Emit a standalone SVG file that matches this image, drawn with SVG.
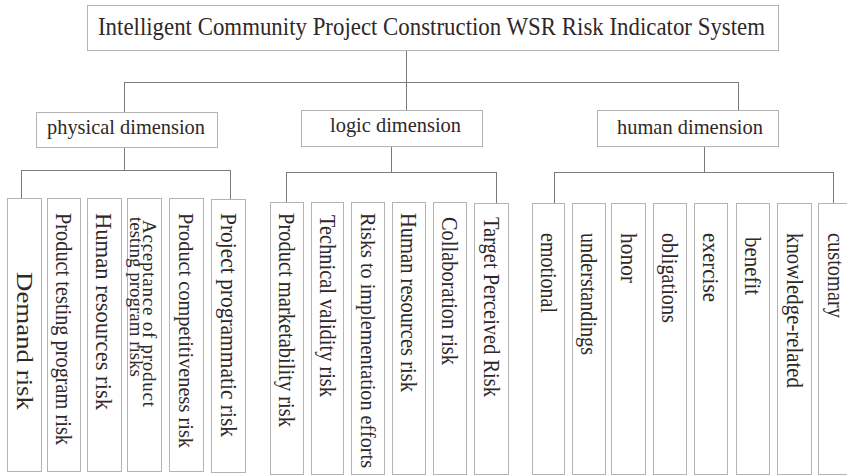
<svg xmlns="http://www.w3.org/2000/svg" width="847" height="476" viewBox="0 0 847 476">
  <style>
    .box { fill: #ffffff; stroke: #b4b4b4; stroke-width: 1; }
    .link { fill: none; stroke: #7a7a7a; stroke-width: 1; }
    text { font-family: "Liberation Serif", "Times New Roman", serif; fill: #2f2828; }
    .title { font-size: 25px; }
    .dim { font-size: 21px; }
    .leaf { font-size: 23px; }
    .long { font-size: 20.5px; }
    .small { font-size: 19px; }
  </style>
  <rect width="847" height="476" fill="#ffffff"/>

  <!-- connectors -->
  <g id="connectors">
    <path class="link" d="M406.5,50 V110 M124.5,82.5 H738.5 M124.5,82 V112 M738.5,82 V110"/>
    <path class="link" d="M124.5,147 V170.5 M21.5,170.5 H230.5 M21.5,170 V198 M230.5,170 V199"/>
    <path class="link" d="M391.5,147 V172.5 M286.5,172.5 H496.5 M286.5,172 V202 M496.5,172 V203"/>
    <path class="link" d="M704.5,147 V172.5 M554.5,172.5 H833.5 M554.5,172 V203 M833.5,172 V203"/>
  </g>

  <!-- root -->
  <g id="root">
    <rect class="box" x="87.5" y="5.5" width="691" height="45"/>
    <text class="title" x="98" y="35" textLength="667" lengthAdjust="spacingAndGlyphs">Intelligent Community Project Construction WSR Risk Indicator System</text>
  </g>

  <!-- dimensions -->
  <g id="dim-physical">
    <rect class="box" x="36.5" y="112.5" width="181" height="35"/>
    <text class="dim" x="47" y="134" textLength="158" lengthAdjust="spacingAndGlyphs">physical dimension</text>
  </g>
  <g id="dim-logic">
    <rect class="box" x="301.5" y="110.5" width="181" height="36"/>
    <text class="dim" x="330" y="131.5" textLength="131" lengthAdjust="spacingAndGlyphs">logic dimension</text>
  </g>
  <g id="dim-human">
    <rect class="box" x="597.5" y="110.5" width="181" height="36"/>
    <text class="dim" x="617" y="133.5" textLength="146" lengthAdjust="spacingAndGlyphs">human dimension</text>
  </g>

  <!-- physical indicators -->
  <g id="p1">
    <rect class="box" x="7.5" y="198.5" width="34" height="273"/>
    <text font-size="24" transform="translate(16.5,272) rotate(90)" textLength="138" lengthAdjust="spacingAndGlyphs">Demand risk</text>
  </g>
  <g id="p2">
    <rect class="box" x="47.5" y="198.5" width="33" height="273"/>
    <text class="leaf" transform="translate(56,213) rotate(90)" textLength="232" lengthAdjust="spacingAndGlyphs">Product testing program risk</text>
  </g>
  <g id="p3">
    <rect class="box" x="87.5" y="198.5" width="34" height="273"/>
    <text class="leaf" transform="translate(96,213) rotate(90)" textLength="197" lengthAdjust="spacingAndGlyphs">Human resources risk</text>
  </g>
  <g id="p4">
    <rect class="box" x="127.5" y="198.5" width="34" height="273"/>
    <text class="small" transform="translate(143,220) rotate(90)" textLength="187" lengthAdjust="spacing">Acceptance of product</text>
    <text class="small" transform="translate(130,217) rotate(90)" textLength="160" lengthAdjust="spacing">testing program risks</text>
  </g>
  <g id="p5">
    <rect class="box" x="169.5" y="198.5" width="34" height="273"/>
    <text class="long" transform="translate(179,213) rotate(90)" textLength="235" lengthAdjust="spacingAndGlyphs">Product competitiveness risk</text>
  </g>
  <g id="p6">
    <rect class="box" x="211.5" y="199.5" width="34" height="273"/>
    <text class="leaf" transform="translate(220.5,213) rotate(90)" textLength="224" lengthAdjust="spacingAndGlyphs">Project programmatic risk</text>
  </g>

  <!-- logic indicators -->
  <g id="l1">
    <rect class="box" x="270.5" y="202.5" width="33" height="272"/>
    <text class="leaf" transform="translate(279,213) rotate(90)" textLength="214" lengthAdjust="spacingAndGlyphs">Product marketability risk</text>
  </g>
  <g id="l2">
    <rect class="box" x="311.5" y="202.5" width="32" height="272"/>
    <text class="leaf" transform="translate(319.5,215) rotate(90)" textLength="182" lengthAdjust="spacingAndGlyphs">Technical validity risk</text>
  </g>
  <g id="l3">
    <rect class="box" x="351.5" y="202.5" width="33" height="272"/>
    <text class="long" transform="translate(360.5,213) rotate(90)" textLength="255" lengthAdjust="spacingAndGlyphs">Risks to implementation efforts</text>
  </g>
  <g id="l4">
    <rect class="box" x="392.5" y="202.5" width="33" height="272"/>
    <text class="leaf" transform="translate(401,213) rotate(90)" textLength="179" lengthAdjust="spacingAndGlyphs">Human resources risk</text>
  </g>
  <g id="l5">
    <rect class="box" x="433.5" y="202.5" width="33" height="272"/>
    <text class="leaf" transform="translate(442,217) rotate(90)" textLength="148" lengthAdjust="spacingAndGlyphs">Collaboration risk</text>
  </g>
  <g id="l6">
    <rect class="box" x="474.5" y="203.5" width="34" height="271"/>
    <text class="leaf" transform="translate(483.5,217) rotate(90)" textLength="180" lengthAdjust="spacingAndGlyphs">Target Perceived Risk</text>
  </g>

  <!-- human indicators -->
  <g id="h1">
    <rect class="box" x="532.5" y="203.5" width="32" height="271"/>
    <text class="leaf" transform="translate(540.5,233) rotate(90)" textLength="80" lengthAdjust="spacingAndGlyphs">emotional</text>
  </g>
  <g id="h2">
    <rect class="box" x="572.5" y="203.5" width="33" height="271"/>
    <text class="leaf" transform="translate(581,233) rotate(90)" textLength="122" lengthAdjust="spacingAndGlyphs">understandings</text>
  </g>
  <g id="h3">
    <rect class="box" x="611.5" y="203.5" width="34" height="271"/>
    <text class="leaf" transform="translate(620.5,233) rotate(90)" textLength="50" lengthAdjust="spacingAndGlyphs">honor</text>
  </g>
  <g id="h4">
    <rect class="box" x="653.5" y="203.5" width="33" height="271"/>
    <text class="leaf" transform="translate(662,233) rotate(90)" textLength="90" lengthAdjust="spacingAndGlyphs">obligations</text>
  </g>
  <g id="h5">
    <rect class="box" x="694.5" y="203.5" width="33" height="271"/>
    <text class="leaf" transform="translate(703,233) rotate(90)" textLength="69" lengthAdjust="spacingAndGlyphs">exercise</text>
  </g>
  <g id="h6">
    <rect class="box" x="736.5" y="203.5" width="33" height="271"/>
    <text class="leaf" transform="translate(745,237) rotate(90)" textLength="58" lengthAdjust="spacingAndGlyphs">benefit</text>
  </g>
  <g id="h7">
    <rect class="box" x="777.5" y="203.5" width="34" height="271"/>
    <text class="leaf" transform="translate(786.5,233) rotate(90)" textLength="155" lengthAdjust="spacingAndGlyphs">knowledge-related</text>
  </g>
  <g id="h8">
    <rect class="box" x="818.5" y="203.5" width="34" height="271"/>
    <text class="leaf" transform="translate(827.5,233) rotate(90)" textLength="85" lengthAdjust="spacingAndGlyphs">customary</text>
  </g>
</svg>
